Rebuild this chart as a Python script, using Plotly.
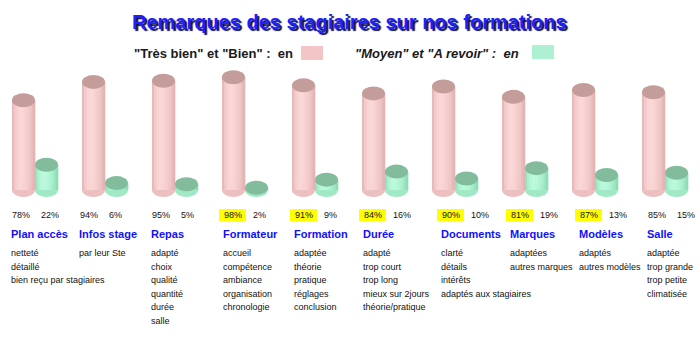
import plotly.graph_objects as go

# ---------------- data ----------------
categories = ["Plan accès", "Infos stage", "Repas", "Formateur", "Formation",
              "Durée", "Documents", "Marques", "Modèles", "Salle"]
good_pct = [78, 94, 95, 98, 91, 84, 90, 81, 87, 85]   # "Très bien" et "Bien"
bad_pct = [22, 6, 5, 2, 9, 16, 10, 19, 13, 15]        # "Moyen" et "A revoir"
highlighted = [False, False, False, True, True, True, True, True, True, False]
remarks = [
    ["netteté", "détaillé", "bien reçu par stagiaires"],
    ["par leur Ste"],
    ["adapté", "choix", "qualité", "quantité", "durée", "salle"],
    ["accueil", "compétence", "ambiance", "organisation", "chronologie"],
    ["adaptée", "théorie", "pratique", "réglages", "conclusion"],
    ["adapté", "trop court", "trop long", "mieux sur 2jours", "théorie/pratique"],
    ["clarté", "détails", "intérêts", "adaptés aux stagiaires"],
    ["adaptées", "autres marques"],
    ["adaptés", "autres modèles"],
    ["adaptée", "trop grande", "trop petite", "climatisée"],
]
title_text = "Remarques des stagiaires sur nos formations"
legend_good = "\"Très bien\" et \"Bien\" :  en"
legend_bad = "\"Moyen\" et \"A revoir\" :  en"

# ---------------- layout constants ----------------
W, H = 700, 340
PX_PER_UNIT_X = 70.0          # one group per 70 px
PX_PER_PCT = 1.15             # vertical scale
BASE_PIX = 190.0              # pixel row of 0 %
CYL_W = 23 / PX_PER_UNIT_X    # cylinder width in x units
RY = 7 / PX_PER_PCT           # ellipse half height in % units
col_shift = [0, -2, 0, 2, 3, 2, 10, 9, 8, 6]   # text column tweaks (px)

x_min = -0.5
x_max = x_min + W / PX_PER_UNIT_X
y_max = BASE_PIX / PX_PER_PCT
y_min = (BASE_PIX - H) / PX_PER_PCT

PINK = dict(light=(250, 214, 214), edge=(224, 174, 174), top="#C49C9A", bottom=(236, 192, 192))
GREEN = dict(light=(186, 250, 220), edge=(134, 216, 176), top="#82BC9C", bottom=(160, 232, 198))


def mix(a, b, f):
    return "rgb(%d,%d,%d)" % tuple(round(a[k] + (b[k] - a[k]) * f) for k in range(3))


def py(pix):
    return 1 - pix / H


shapes = []


def cylinder(x0, value, pal, n=10):
    x1 = x0 + CYL_W
    shapes.append(dict(type="circle", xref="x", yref="y", x0=x0, x1=x1, y0=-RY, y1=RY,
                       fillcolor=mix(pal["bottom"], pal["bottom"], 0), line=dict(width=0)))
    dx = CYL_W / n
    for s in range(n):
        t = (s + 0.5) / n
        d = abs(t - 0.35) / (0.35 if t < 0.35 else 0.65)
        f = max(0.0, 1 - d ** 2)
        shapes.append(dict(type="rect", xref="x", yref="y",
                           x0=x0 + s * dx, x1=x0 + (s + 1) * dx + dx * 0.15,
                           y0=0, y1=value, fillcolor=mix(pal["edge"], pal["light"], f),
                           line=dict(width=0)))
    shapes.append(dict(type="circle", xref="x", yref="y", x0=x0, x1=x1,
                       y0=value - RY, y1=value + RY, fillcolor=pal["top"],
                       line=dict(width=0)))


for i in range(len(categories)):
    cylinder(i - CYL_W, good_pct[i], PINK)
    cylinder(i, bad_pct[i], GREEN)

annotations = []
TXT = dict(family="Liberation Sans, Arial, sans-serif", size=9, color="#111111")

for i, cat in enumerate(categories):
    left_px = 35 + 70 * i - 26 + col_shift[i]       # label left edge in px
    to_x = lambda p: x_min + p / PX_PER_UNIT_X
    # yellow highlight
    if highlighted[i]:
        shapes.append(dict(type="rect", xref="x", yref="paper",
                           x0=to_x(left_px - 2), x1=to_x(left_px + 25),
                           y0=py(221), y1=py(209), fillcolor="#FFFF00",
                           line=dict(width=0), layer="below"))
    annotations.append(dict(x=to_x(left_px + 11.5), y=py(215), xref="x", yref="paper",
                            text=f"{good_pct[i]}%", showarrow=False, font=TXT,
                            xanchor="center", yanchor="middle"))
    annotations.append(dict(x=to_x(left_px + 30), y=py(215), xref="x", yref="paper",
                            text=f"{bad_pct[i]}%", showarrow=False, font=TXT,
                            xanchor="left", yanchor="middle"))
    annotations.append(dict(x=to_x(left_px), y=py(233.5), xref="x", yref="paper",
                            text=f"<b>{cat}</b>", showarrow=False,
                            font=dict(family="Liberation Sans, Arial, sans-serif",
                                      size=11, color="#1010FF"),
                            xanchor="left", yanchor="middle"))
    for k, r in enumerate(remarks[i]):
        annotations.append(dict(x=to_x(left_px), y=py(253 + 13.6 * k), xref="x",
                                yref="paper", text=r, showarrow=False, font=TXT,
                                xanchor="left", yanchor="middle"))

# title with shadow (CSS text-shadow through font.shadow)
annotations.append(dict(x=349.5 / W, y=py(22), xref="paper", yref="paper",
                        text=f"<b>{title_text}</b>", showarrow=False,
                        font=dict(family="Liberation Sans, Arial, sans-serif", size=20,
                                  color="#2020FF", shadow="2px 2px 1px #14143C"),
                        xanchor="center", yanchor="middle"))

# legend
LEG = dict(family="Liberation Sans, Arial, sans-serif", size=13, color="#1a1a1a")
annotations.append(dict(x=132 / W, y=py(53), xref="paper", yref="paper",
                        text=f"<b>{legend_good}</b>", showarrow=False, font=LEG,
                        xanchor="left", yanchor="middle"))
annotations.append(dict(x=353 / W, y=py(53), xref="paper", yref="paper",
                        text=f"<b><i>{legend_bad}</i></b>", showarrow=False, font=LEG,
                        xanchor="left", yanchor="middle"))
shapes.append(dict(type="rect", xref="paper", yref="paper", x0=301 / W, x1=323 / W,
                   y0=py(60), y1=py(46), fillcolor="#F2C6C6", line=dict(width=0)))
shapes.append(dict(type="rect", xref="paper", yref="paper", x0=532 / W, x1=554 / W,
                   y0=py(59), y1=py(45), fillcolor="#AEF0D2", line=dict(width=0)))

fig = go.Figure()
fig.add_trace(go.Scatter(x=[x_min], y=[y_min], mode="markers",
                         marker=dict(opacity=0), hoverinfo="skip", showlegend=False))
fig.update_layout(
    width=W, height=H, margin=dict(l=0, r=0, t=0, b=0),
    paper_bgcolor="white", plot_bgcolor="white", showlegend=False,
    xaxis=dict(range=[x_min, x_max], visible=False, fixedrange=True),
    yaxis=dict(range=[y_min, y_max], visible=False, fixedrange=True),
    shapes=shapes, annotations=annotations,
)
fig.write_html("out.html")
